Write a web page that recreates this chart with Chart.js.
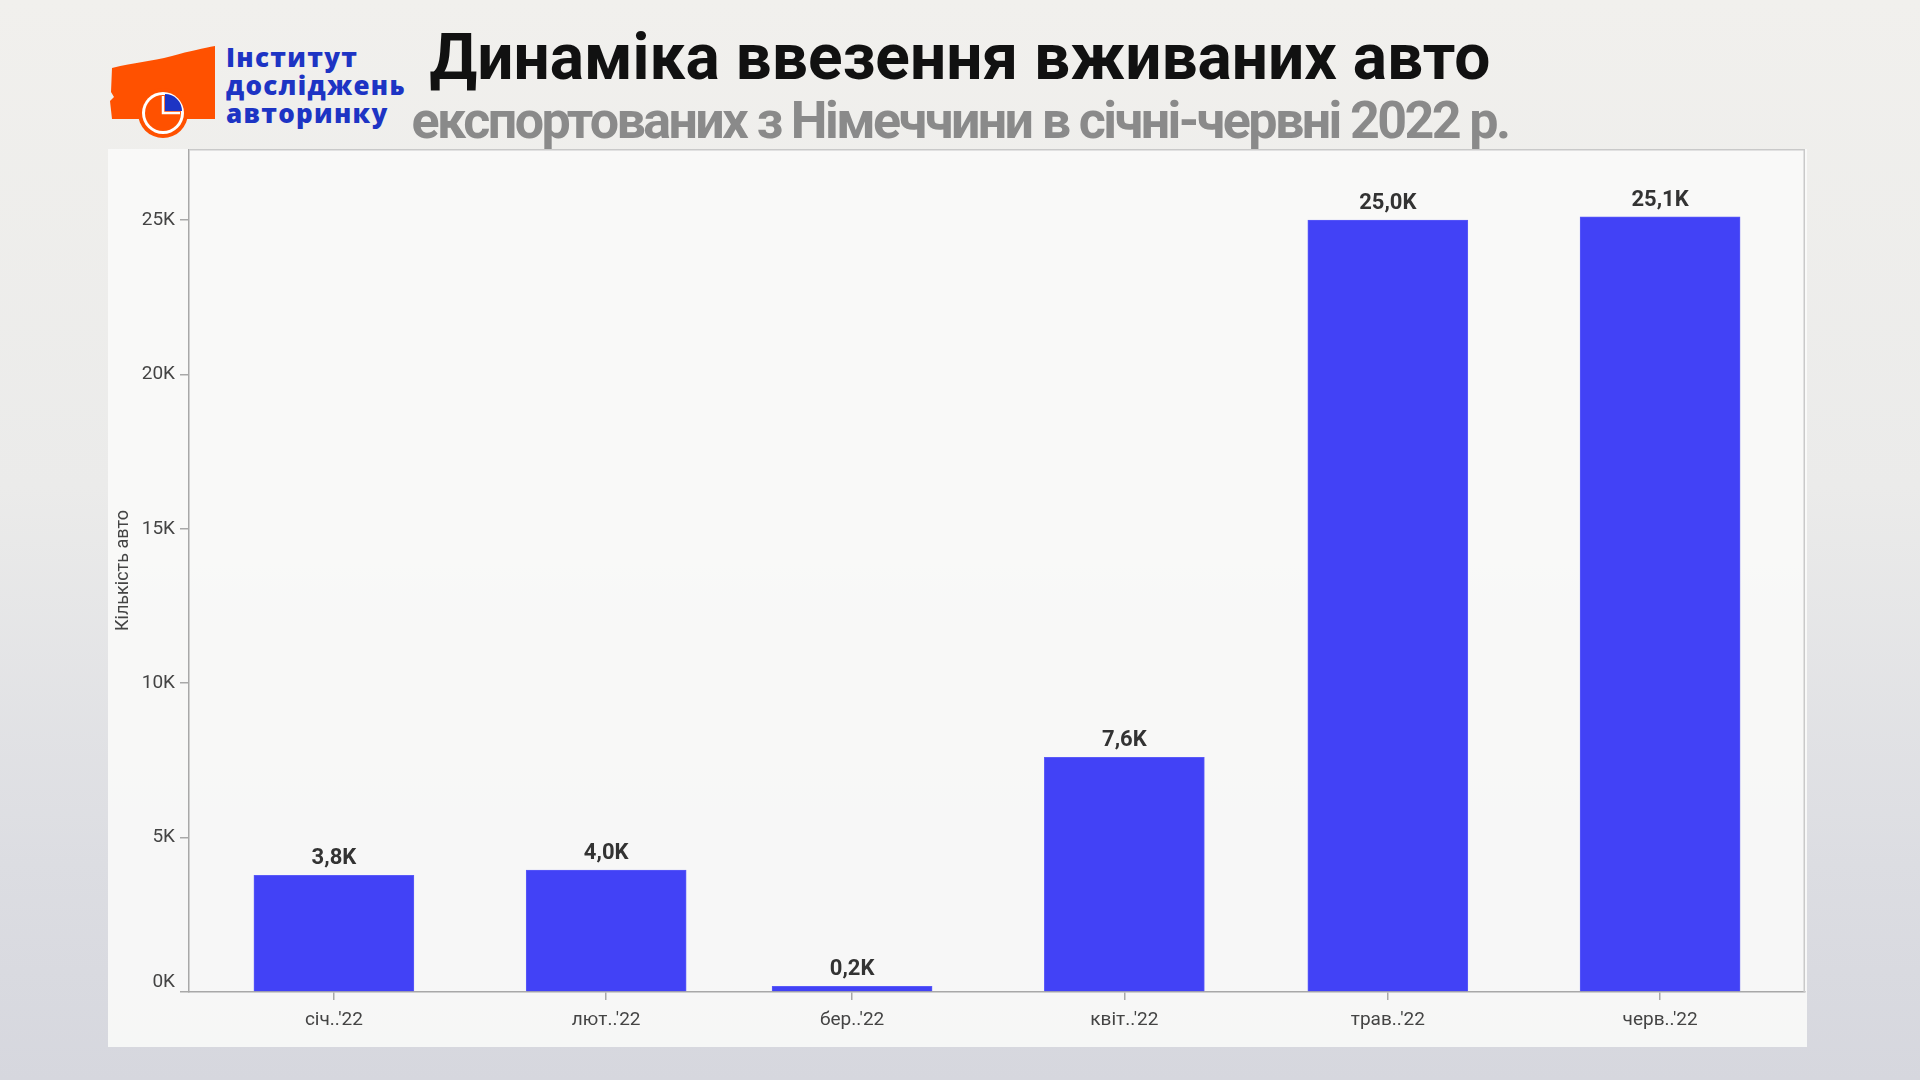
<!DOCTYPE html>
<html lang="uk">
<head>
  <meta charset="UTF-8">
  <title>Динаміка ввезення вживаних авто</title>
  <script src="https://cdn.jsdelivr.net/npm/chart.js"></script>
  <style>
    html, body { margin: 0; padding: 0; }
    body {
      width: 1920px; height: 1080px; overflow: hidden; position: relative;
      font-family: Roboto, "Noto Sans", sans-serif;
      background: linear-gradient(180deg, #f1f0ed 0%, #ebebea 45%, #dcdde2 80%, #d6d7de 100%);
    }
    .logo { position: absolute; left: 108px; top: 40px; }
    .logo-text {
      position: absolute; left: 226px; top: 43px;
      font-family: "Open Sans", sans-serif; font-weight: 800; font-size: 26px;
      line-height: 28px; letter-spacing: 1.3px; color: #1d34c4;
    }
    .title {
      position: absolute; left: 0; width: 1920px; text-align: center; font-weight: 700;
    }
    #t1 { top: 20px; font-size: 64px; color: #111; }
    #t2 { top: 90px; font-size: 52px; color: #8a8a8a; letter-spacing: -2.6px; }
    .panel {
      position: absolute; left: 108px; top: 149px; width: 1699px; height: 898px;
      background: rgba(250, 250, 249, 0.88);
    }
  </style>
</head>
<body>
  <!-- логотип -->
  <svg class="logo" width="120" height="110" viewBox="108 40 120 110">
    <path d="M112,68 C135,62 150,62 172,56 C190,51 204,48 215,46 L215,119 L112,119 L110,101 L114,97 L111,92 Z" fill="#ff5100"/>
    <circle cx="163" cy="113" r="25" fill="#ff5100"/>
    <circle cx="163" cy="113" r="21" fill="#fff"/>
    <circle cx="163" cy="113" r="18" fill="#ff5100"/>
    <path d="M165,111 L165,94 A17,17 0 0 1 182,111 Z" fill="#1d34c4"/>
    <path d="M163,96 L163,113 L180,113" stroke="#fff" stroke-width="2.5" fill="none"/>
  </svg>
  <div class="logo-text">Інститут<br>досліджень<br>авторинку</div>

  <div class="title" id="t1">Динаміка ввезення вживаних авто</div>
  <div class="title" id="t2">експортованих з Німеччини в січні-червні 2022 р.</div>

  <div class="panel"><canvas id="importChart"></canvas></div>

<script>
// дані з графіка
const months = ["2022-01-01", "2022-02-01", "2022-03-01", "2022-04-01", "2022-05-01", "2022-06-01"];
const monthLabels = ["січ..'22", "лют..'22", "бер..'22", "квіт..'22", "трав..'22", "черв..'22"];
const imports = [3780, 3950, 180, 7600, 25000, 25100];
const yTicks = [0, 5000, 10000, 15000, 20000, 25000];

// день від 1 січня, щоб відстані між місяцями були як на часовій осі
const start = Date.UTC(2022, 0, 1);
const dayIdx = months.map(m => Math.round((Date.parse(m) - start) / 86400000));

function kLabel(v, digits) {
  return (v / 1000).toFixed(digits).replace(".", ",") + "K";
}

const tickFont = "19px Roboto";

const frame = {
  id: "frame",
  beforeDatasetsDraw(chart) {
    const { ctx, chartArea: a } = chart;
    ctx.save();
    ctx.strokeStyle = "#c9c9c9";
    ctx.lineWidth = 1.5;
    ctx.beginPath();
    ctx.moveTo(a.left, a.top + 0.75);
    ctx.lineTo(a.right - 0.75, a.top + 0.75);
    ctx.lineTo(a.right - 0.75, a.bottom);
    ctx.stroke();
    ctx.restore();
  }
};

// підписи значень над стовпцями + "0K", що стоїть над віссю
const valueLabels = {
  id: "valueLabels",
  afterDatasetsDraw(chart) {
    const { ctx } = chart;
    ctx.save();
    ctx.font = "bold 22px Roboto";
    ctx.fillStyle = "#333";
    ctx.textAlign = "center";
    ctx.textBaseline = "alphabetic";
    chart.getDatasetMeta(0).data.forEach((bar, i) => {
      ctx.fillText(kLabel(imports[i], 1), bar.x, bar.y - 11);
    });
    const y = chart.scales.y;
    ctx.font = tickFont;
    ctx.fillStyle = "#444";
    ctx.textAlign = "right";
    ctx.fillText(kLabel(yTicks[0], 0), y.right - 14, y.getPixelForValue(yTicks[0]) - 5);
    ctx.restore();
  }
};

new Chart(document.getElementById("importChart"), {
  type: "bar",
  data: {
    datasets: [{
      label: "Кількість авто",
      data: dayIdx.map((d, i) => ({ x: d, y: imports[i] })),
      backgroundColor: "#4242f6",
      borderColor: "#5a5af8",
      borderWidth: 1,
      barThickness: 160
    }]
  },
  options: {
    responsive: true,
    maintainAspectRatio: false,
    animation: false,
    layout: { padding: { left: 0, right: 2, top: 0, bottom: 0 } },
    plugins: { legend: { display: false }, tooltip: { enabled: false } },
    scales: {
      x: {
        type: "linear",
        offset: false,
        min: -16.5,
        max: 167.5,
        afterBuildTicks: s => { s.ticks = dayIdx.map(v => ({ value: v })); },
        afterFit: s => { s.height = 55; s.paddingLeft = 0; s.paddingRight = 0; },
        grid: { offset: false, drawOnChartArea: false, color: "#a8a8a8", tickLength: 8, lineWidth: 1.5 },
        border: { color: "#a8a8a8", width: 1.5 },
        ticks: {
          autoSkip: false, maxRotation: 0, padding: 9,
          color: "#444", font: { family: "Roboto", size: 19 },
          callback: v => monthLabels[dayIdx.indexOf(v)] || ""
        }
      },
      y: {
        min: 0,
        max: 27300,
        afterBuildTicks: s => { s.ticks = yTicks.map(v => ({ value: v })); },
        afterFit: s => { s.width = 81; s.paddingTop = 0; s.paddingBottom = 0; },
        grid: { drawOnChartArea: false, color: "#a8a8a8", tickLength: 9, lineWidth: 1.5 },
        border: { color: "#a8a8a8", width: 1.5 },
        ticks: {
          padding: 5, color: "#444", font: { family: "Roboto", size: 19 },
          callback: v => (v === yTicks[0] ? "" : kLabel(v, 0))
        },
        title: {
          display: true, text: "Кількість авто", color: "#444",
          font: { family: "Roboto", size: 18 }, padding: { top: 5, bottom: 0 }
        }
      }
    }
  },
  plugins: [frame, valueLabels]
});
</script>
</body>
</html>
